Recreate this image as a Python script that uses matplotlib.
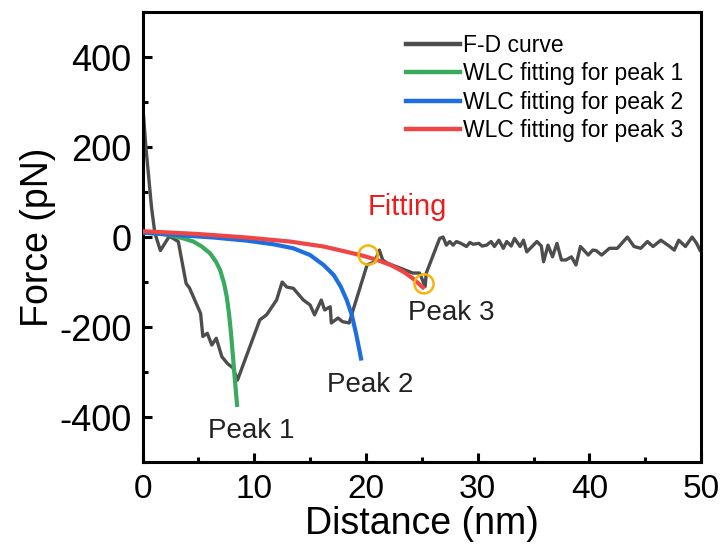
import matplotlib
matplotlib.use('Agg')
import matplotlib.pyplot as plt
from matplotlib.ticker import MultipleLocator

plt.rcParams['font.family'] = ['Liberation Sans', 'DejaVu Sans']
plt.rcParams['axes.unicode_minus'] = False

# Force-distance trace (nm, pN)
fd_x = [0.0, 0.3, 0.8, 1.1, 1.6, 2.4, 3.2, 3.9, 4.2, 5.2, 5.4, 5.8, 6.2, 6.6, 7.1,
        7.6, 8.1, 8.5, 10.5, 11.1, 12.0, 12.5, 12.9, 13.5, 14.4, 15.0, 15.4, 16.0,
        16.3, 16.8, 16.9, 17.5, 17.9, 18.5, 18.8, 20.1, 20.8, 21.2, 21.5, 21.9,
        24.2, 24.8, 25.3, 25.4, 26.6, 26.9, 27.2, 27.5, 27.8, 28.1, 28.5, 29.0,
        29.3, 29.6, 30.1, 30.4, 30.8, 31.2, 31.5, 31.9, 32.3, 32.6, 33.0, 33.3,
        33.8, 34.1, 34.4, 35.3, 35.7, 35.9, 36.3, 36.7, 37.1, 37.5, 37.9, 38.4,
        38.8, 39.2, 39.9, 40.3, 40.6, 41.1, 41.8, 42.5, 42.9, 43.4, 44.0, 44.6,
        45.2, 45.7, 46.4, 47.2, 47.6, 48.0, 48.6, 49.2, 49.6, 49.9]
fd_y = [298, 200, 67, 9, -30, 2, -10, -103, -113, -170, -221, -214, -240, -225, -266,
        -281, -291, -318, -184, -173, -140, -100, -111, -114, -140, -151, -173, -140,
        -162, -155, -191, -180, -188, -191, -166, -62, -55, -29, -51, -58,
        -80, -80, -110, -80, -3, 0, -18, -10, -18, -10, -14, -21,
        -12, -16, -14, -20, -18, -10, -21, -7, -25, -10, -20, -3,
        -21, -7, -33, -10, -20, -55, -18, -44, -14, -51, -51, -44, -62,
        -21, -40, -29, -30, -40, -25, -25, -14, 0, -21, -25,
        -10, -21, -7, -21, -29, -7, -21, 0, -14, -29]

# WLC fit for peak 1
wlc1_x = [0.0, 1.27, 2.46, 3.65, 4.55, 5.30, 6.04, 6.58, 6.94, 7.30, 7.54,
          7.74, 7.92, 8.07, 8.22, 8.37, 8.46]
wlc1_y = [10, 8, 4, -3, -10, -21, -36, -55, -73, -103, -133,
          -170, -214, -258, -303, -347, -373]

# WLC fit for peak 2
wlc2_x = [0.0, 3.36, 6.34, 9.33, 11.7, 13.5, 15.0, 16.2, 17.1, 17.74, 18.28,
          18.73, 19.11, 19.41, 19.56]
wlc2_y = [10, 4, -1, -8, -16, -25, -40, -62, -84, -110, -140,
          -173, -214, -251, -270]

# WLC fit for peak 3
wlc3_x = [0.0, 4.85, 9.33, 13.2, 16.2, 18.3, 19.8, 21.0, 22.2, 23.35, 24.2, 25.1]
wlc3_y = [13, 7, -1, -10, -21, -33, -42, -51, -62, -77, -92, -112]

# fitted range markers
mark_x = [20.2, 25.2]
mark_y = [-40, -104]

peak_labels = ['Peak 1', 'Peak 2', 'Peak 3']
peak_label_x = [9.7, 20.4, 27.6]
peak_label_y = [-447, -344, -184]

fig = plt.figure(figsize=(7.25, 5.5), dpi=100)
ax = fig.add_axes([0.1966, 0.16, 0.7704, 0.818])

ax.plot(fd_x, fd_y, color='#4d4d4d', lw=2.4, label='F-D curve', zorder=2)
ax.plot(wlc1_x, wlc1_y, color='#3aaa5e', lw=3, label='WLC fitting for peak 1', zorder=3)
ax.plot(wlc2_x, wlc2_y, color='#1f6ee0', lw=3, label='WLC fitting for peak 2', zorder=3)
ax.plot(wlc3_x, wlc3_y, color='#f04545', lw=3, label='WLC fitting for peak 3', zorder=4)
ax.scatter(mark_x, mark_y, s=190, facecolors='none', edgecolors='#f5b50a',
           linewidths=1.8, zorder=5)

for txt, tx, ty in zip(peak_labels, peak_label_x, peak_label_y):
    ax.text(tx, ty, txt, fontsize=20, ha='center', va='baseline', color='#222222')
ax.text(23.7, 49, 'Fitting', fontsize=21, ha='center', va='baseline', color='#ec1c1c')

ax.set_xlim(0, 50)
ax.set_ylim(-500, 500)
ax.xaxis.set_major_locator(MultipleLocator(10))
ax.xaxis.set_minor_locator(MultipleLocator(5))
ax.yaxis.set_major_locator(MultipleLocator(200))
ax.yaxis.set_minor_locator(MultipleLocator(100))
ax.tick_params(which='both', direction='in', width=2.2)
ax.tick_params(which='major', length=6.5)
ax.tick_params(which='minor', length=3.5)
ax.tick_params(axis='x', labelsize=24, pad=9)
ax.tick_params(axis='y', labelsize=26, pad=8)
for s in ax.spines.values():
    s.set_linewidth(2.2)

ax.set_xlabel('Distance (nm)', fontsize=27, labelpad=0)
ax.set_ylabel('Force (pN)', fontsize=27, labelpad=2)

leg = ax.legend(loc='upper left', bbox_to_anchor=(0.455, 0.972), frameon=False,
                fontsize=16.5, handlelength=2.35, handletextpad=0.15,
                labelspacing=0.24, borderaxespad=0)
for ln in leg.get_lines():
    ln.set_linewidth(3.2)

fig.savefig('out.png', dpi=100, facecolor='white')
